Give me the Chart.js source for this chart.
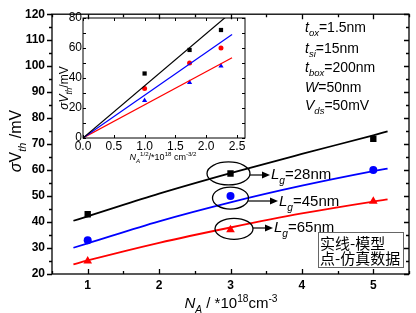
<!DOCTYPE html>
<html>
<head>
    <meta charset="utf-8"/>
    <title>sigma Vth vs NA</title>
    <script src="https://cdn.jsdelivr.net/npm/chart.js"></script>
    <style>
        body {
            margin: 0;
            background-color: #ffffff;
        }

        #wrap {
            position: relative;
            width: 416px;
            height: 313px;
        }

        #mainChart {
            position: absolute;
            left: 0;
            top: 0;
        }

        #insetChart {
            position: absolute;
            left: 40px;
            top: 8px;
        }
    </style>
</head>
<body>
    <div id="wrap">
        <canvas id="mainChart" width="416" height="313"></canvas>
        <canvas id="insetChart" width="215" height="160"></canvas>
    </div>

    <script>
        // Data: simulation points (NA in 1e18 cm^-3)
        const naValues = [1, 3, 5];
        const sim28 = [43, 58.7, 72];
        const sim45 = [33, 50, 60];
        const sim65 = [25, 37, 48];

        // Model curves
        const modelX = [0.8, 1, 2, 3, 4, 5, 5.2];
        const model28 = [40.5, 42.2, 50.9, 58.8, 66.2, 73.4, 74.9];
        const model45 = [30.1, 31.8, 40.3, 47.6, 54.0, 59.6, 60.6];
        const model65 = [23.7, 25.2, 32.0, 37.9, 43.3, 47.9, 48.7];

        // Inset: against sqrt(NA)
        const sqrtNa = [1, 1.73, 2.24];
        const insetLineX = [0, 2.42];
        const insetLine28 = [0, 84.2];
        const insetLine45 = [0, 69];
        const insetLine65 = [0, 53.5];

        // Ticks
        const xTicks = [1, 2, 3, 4, 5];
        const xMinor = [0.5, 1.5, 2.5, 3.5, 4.5, 5.5];
        const yTicks = [20, 30, 40, 50, 60, 70, 80, 90, 100, 110, 120];
        const yMinor = [25, 35, 45, 55, 65, 75, 85, 95, 105, 115];
        const insetXTicks = [0, 0.5, 1, 1.5, 2, 2.5];
        const insetYTicks = [0, 10, 20, 30, 40, 50, 60, 70, 80];

        const FONT = '"Liberation Sans", Arial, sans-serif';

        function pts(xs, ys) {
            return xs.map((x, i) => ({ x: x, y: ys[i] }));
        }

        // draw text with italic / subscript / superscript pieces
        // flags: i = italic, b = subscript, p = superscript
        function rich(ctx, parts, x, y, size, align) {
            const fontOf = (f) => {
                const s = (f.includes('b') || f.includes('p')) ? size * 0.68 : size;
                return (f.includes('i') ? 'italic ' : '') + s + 'px ' + FONT;
            };
            let total = 0;
            parts.forEach(([t, f]) => {
                ctx.font = fontOf(f || '');
                total += ctx.measureText(t).width;
            });
            let cx = x;
            if (align === 'center') cx = x - total / 2;
            ctx.textBaseline = 'alphabetic';
            ctx.textAlign = 'left';
            parts.forEach(([t, f]) => {
                f = f || '';
                ctx.font = fontOf(f);
                let dy = 0;
                if (f.includes('b')) dy = size * 0.3;
                if (f.includes('p')) dy = -size * 0.42;
                ctx.fillText(t, cx, y + dy);
                cx += ctx.measureText(t).width;
            });
        }

        function arrow(ctx, x1, y, x2) {
            ctx.beginPath();
            ctx.moveTo(x1, y);
            ctx.lineTo(x2 - 6, y);
            ctx.stroke();
            ctx.beginPath();
            ctx.moveTo(x2, y);
            ctx.lineTo(x2 - 8, y - 3.5);
            ctx.lineTo(x2 - 8, y + 3.5);
            ctx.closePath();
            ctx.fill();
        }

        // frame and tick marks drawn from the scales
        const frameTicks = {
            id: 'frameTicks',
            afterDatasetsDraw(chart, args, o) {
                const ctx = chart.ctx;
                const a = chart.chartArea;
                const xs = chart.scales.x, ys = chart.scales.y;
                ctx.save();
                ctx.strokeStyle = '#000';
                ctx.lineWidth = o.lineWidth;
                ctx.strokeRect(a.left, a.top, a.right - a.left, a.bottom - a.top);
                const yl = (v, len) => {
                    const p = Math.round(ys.getPixelForValue(v)) + 0.5;
                    ctx.beginPath();
                    if (o.leftOut) {
                        ctx.moveTo(a.left - len, p); ctx.lineTo(a.left, p);
                    } else {
                        ctx.moveTo(a.left, p); ctx.lineTo(a.left + len, p);
                    }
                    ctx.moveTo(a.right, p); ctx.lineTo(a.right - len, p);
                    ctx.stroke();
                };
                const xl = (v, len) => {
                    const p = Math.round(xs.getPixelForValue(v)) + 0.5;
                    ctx.beginPath();
                    ctx.moveTo(p, a.bottom); ctx.lineTo(p, a.bottom - len);
                    ctx.moveTo(p, a.top); ctx.lineTo(p, a.top + len);
                    ctx.stroke();
                };
                o.yMajor.forEach(v => yl(v, o.majorLen));
                o.yMinor.forEach(v => yl(v, o.minorLen));
                o.xMajor.forEach(v => xl(v, o.majorLen));
                o.xMinor.forEach(v => xl(v, o.minorLen));
                ctx.restore();
            }
        };

        // ellipses, labels, parameter text and titles on the main chart
        const mainNotes = {
            id: 'mainNotes',
            afterDraw(chart) {
                const ctx = chart.ctx;
                const xs = chart.scales.x, ys = chart.scales.y;
                ctx.save();
                ctx.fillStyle = '#000';
                ctx.strokeStyle = '#000';
                ctx.lineWidth = 1.3;

                // ellipses around the NA = 3 points
                const ells = [
                    [sim28[1], -2, 21.5, 11.5, 0],
                    [sim45[1], 0, 18, 11, 2],
                    [sim65[1], 3.5, 19, 10.5, -1]
                ];
                ells.forEach(([v, dx, rx, ry, dy]) => {
                    const cx = xs.getPixelForValue(naValues[1]) + dx;
                    const cy = ys.getPixelForValue(v) + dy;
                    ctx.beginPath();
                    ctx.ellipse(cx, cy, rx, ry, 0, 0, Math.PI * 2);
                    ctx.stroke();
                });

                // arrows + Lg labels
                ctx.lineWidth = 1.2;
                arrow(ctx, 250, 175, 270);
                arrow(ctx, 248, 201, 278);
                arrow(ctx, 253, 228, 273);
                rich(ctx, [['L', 'i'], ['g', 'ib'], ['=28nm', '']], 271, 179, 15);
                rich(ctx, [['L', 'i'], ['g', 'ib'], ['=45nm', '']], 279, 206, 15);
                rich(ctx, [['L', 'i'], ['g', 'ib'], ['=65nm', '']], 274, 232, 15);

                // device parameters
                const px = 305;
                rich(ctx, [['t', 'i'], ['ox', 'ib'], ['=1.5nm', '']], px, 32, 14);
                rich(ctx, [['t', 'i'], ['si', 'ib'], ['=15nm', '']], px, 53, 14);
                rich(ctx, [['t', 'i'], ['box', 'ib'], ['=200nm', '']], px, 72, 14);
                rich(ctx, [['W', 'i'], ['=50nm', '']], px, 92, 14);
                rich(ctx, [['V', 'i'], ['ds', 'ib'], ['=50mV', '']], px, 110, 14);

                // legend note box
                ctx.fillStyle = '#fff';
                ctx.fillRect(318, 232, 85, 35);
                ctx.strokeStyle = '#666';
                ctx.lineWidth = 1;
                ctx.strokeRect(318.5, 232.5, 85, 35);
                ctx.fillStyle = '#000';
                ctx.font = '15px "Noto Sans CJK SC"';
                ctx.textBaseline = 'middle';
                ctx.fillText('实线-模型', 320, 243);
                ctx.fillText('点-仿真数据', 320, 258);

                // axis titles
                rich(ctx, [['N', 'i'], ['A', 'ib'], [' / *10', ''], ['18', 'p'], ['cm', ''], ['-3', 'p']], 231, 308, 15, 'center');
                ctx.translate(21, 141);
                ctx.rotate(-Math.PI / 2);
                rich(ctx, [['σ', 'i'], ['V', ''], ['th', 'ib'], [' /mV', '']], 0, 0, 16, 'center');
                ctx.restore();
            }
        };

        const insetNotes = {
            id: 'insetNotes',
            afterDraw(chart) {
                const ctx = chart.ctx;
                ctx.save();
                ctx.fillStyle = '#000';
                rich(ctx, [['N', 'i'], ['A', 'ib'], ['1/2', 'p'], ['/*10', ''], ['18', 'p'], [' cm', ''], ['-3/2', 'p']], 123, 152, 9, 'center');
                ctx.translate(28, 80);
                ctx.rotate(-Math.PI / 2);
                rich(ctx, [['σ', 'i'], ['V', 'i'], ['th', 'ib'], ['/mV', '']], 0, 0, 12, 'center');
                ctx.restore();
            }
        };

        function lineSet(data, color, width) {
            return {
                data: data, showLine: true, borderColor: color, borderWidth: width,
                pointRadius: 0, tension: 0.3, cubicInterpolationMode: 'monotone', fill: false
            };
        }

        function pointSet(data, color, style, r) {
            return {
                data: data, showLine: false, pointStyle: style, pointRadius: r,
                backgroundColor: color, borderColor: color, borderWidth: 0
            };
        }

        // main chart
        new Chart(document.getElementById('mainChart'), {
            type: 'scatter',
            data: {
                datasets: [
                    lineSet(pts(modelX, model28), '#000000', 1.8),
                    lineSet(pts(modelX, model45), '#0000ff', 1.8),
                    lineSet(pts(modelX, model65), '#ff0000', 1.8),
                    pointSet(pts(naValues, sim28), '#000000', 'rect', 4.5),
                    pointSet(pts(naValues, sim45), '#0000ff', 'circle', 4),
                    pointSet(pts(naValues, sim65), '#ff0000', 'triangle', 5)
                ]
            },
            options: {
                responsive: false,
                animation: false,
                layout: { padding: { top: 7, right: 7, left: 0, bottom: 0 } },
                plugins: {
                    legend: { display: false },
                    tooltip: { enabled: false },
                    frameTicks: {
                        lineWidth: 1.3, leftOut: true, majorLen: 5, minorLen: 3,
                        xMajor: xTicks, xMinor: xMinor, yMajor: yTicks, yMinor: yMinor
                    }
                },
                scales: {
                    x: {
                        type: 'linear', min: 0.5, max: 5.5,
                        grid: { display: false, drawTicks: false },
                        border: { display: false },
                        afterBuildTicks: (s) => { s.ticks = xTicks.map(v => ({ value: v })); },
                        afterFit: (s) => { s.height = 39; },
                        ticks: { color: '#000', padding: 4, maxRotation: 0, font: { family: FONT, size: 12, weight: 'bold' } }
                    },
                    y: {
                        min: 20, max: 120,
                        grid: { display: false, drawTicks: false },
                        border: { display: false },
                        afterBuildTicks: (s) => { s.ticks = yTicks.map(v => ({ value: v })); },
                        afterFit: (s) => { s.width = 52; },
                        ticks: { color: '#000', padding: 7, font: { family: FONT, size: 12, weight: 'bold' } }
                    }
                }
            },
            plugins: [frameTicks, mainNotes]
        });

        // inset chart
        new Chart(document.getElementById('insetChart'), {
            type: 'scatter',
            data: {
                datasets: [
                    lineSet(pts(insetLineX, insetLine28), '#000000', 1.2),
                    lineSet(pts(insetLineX, insetLine45), '#0000ff', 1.2),
                    lineSet(pts(insetLineX, insetLine65), '#ff0000', 1.2),
                    pointSet(pts(sqrtNa, sim28), '#000000', 'rect', 3),
                    pointSet(pts(sqrtNa, sim45), '#ff0000', 'circle', 2.5),
                    pointSet(pts(sqrtNa, sim65), '#0000ff', 'triangle', 3)
                ]
            },
            options: {
                responsive: false,
                animation: false,
                layout: { padding: { top: 10, right: 10, left: 0, bottom: 0 } },
                plugins: {
                    legend: { display: false },
                    tooltip: { enabled: false },
                    frameTicks: {
                        lineWidth: 1, leftOut: false, majorLen: 3, minorLen: 0,
                        xMajor: insetXTicks, xMinor: [], yMajor: insetYTicks, yMinor: []
                    }
                },
                scales: {
                    x: {
                        type: 'linear', min: 0, max: 2.63,
                        grid: { display: false, drawTicks: false },
                        border: { display: false },
                        afterBuildTicks: (s) => { s.ticks = insetXTicks.map(v => ({ value: v })); },
                        afterFit: (s) => { s.height = 30; },
                        ticks: {
                            color: '#000', padding: 1, maxRotation: 0,
                            font: { family: FONT, size: 12 },
                            callback: (v) => Number(v).toFixed(1)
                        }
                    },
                    y: {
                        min: 0, max: 80,
                        grid: { display: false, drawTicks: false },
                        border: { display: false },
                        afterBuildTicks: (s) => { s.ticks = insetYTicks.map(v => ({ value: v })); },
                        afterFit: (s) => { s.width = 43; },
                        ticks: { color: '#000', padding: 1, font: { family: FONT, size: 12 } }
                    }
                }
            },
            plugins: [frameTicks, insetNotes]
        });
    </script>
</body>
</html>
